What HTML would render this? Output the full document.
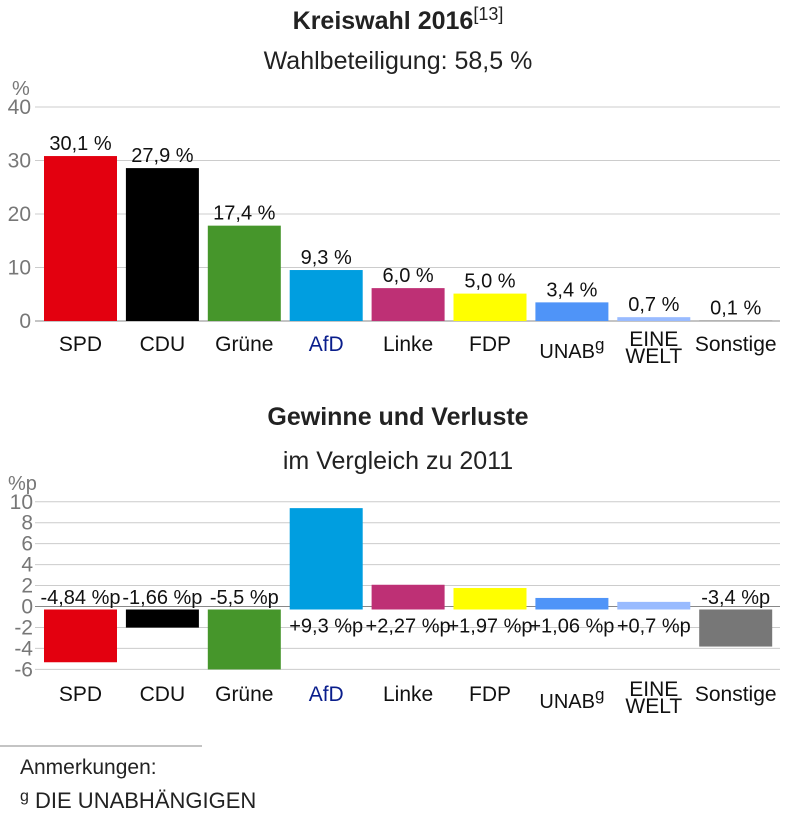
<!DOCTYPE html>
<html><head><meta charset="utf-8"><style>
body{margin:0;background:#fff;font-family:"Liberation Sans",sans-serif;}
svg text{font-family:"Liberation Sans",sans-serif;}
</style></head><body>
<svg id="c" width="797" height="815">
<text x="398" y="29" text-anchor="middle" font-size="25" font-weight="bold" fill="#222">Kreiswahl 2016<tspan font-size="18" font-weight="normal" dy="-9">[13]</tspan></text>
<text x="398" y="69" text-anchor="middle" font-size="25" fill="#222">Wahlbeteiligung: 58,5 %</text>
<text x="398" y="425" text-anchor="middle" font-size="25" font-weight="bold" fill="#222">Gewinne und Verluste</text>
<text x="398" y="469" text-anchor="middle" font-size="25" fill="#222">im Vergleich zu 2011</text>
<line x1="0" y1="746" x2="202" y2="746" stroke="#888" stroke-width="1"/>
<text x="20" y="774" font-size="21" fill="#222">Anmerkungen:</text>
<text x="20" y="808" font-size="22" fill="#222"><tspan font-size="16" dy="-7">g</tspan><tspan dy="7"> DIE UNABHÄNGIGEN</tspan></text>
<g id="top"></g><g id="bot"></g>
</svg>
<script>
const parties = ["SPD","CDU","Grüne","AfD","Linke","FDP","UNAB","EINE WELT","Sonstige"];
const colors = ["#e3000f","#000000","#46962b","#009ee0","#be3075","#ffff00","#4f94f8","#99bbff","#777777"];
const votes = [30.1,27.9,17.4,9.3,6.0,5.0,3.4,0.7,0.1];
const voteLabels = ["30,1 %","27,9 %","17,4 %","9,3 %","6,0 %","5,0 %","3,4 %","0,7 %","0,1 %"];
const changes = [-4.84,-1.66,-5.5,9.3,2.27,1.97,1.06,0.7,-3.4];
const changeLabels = ["-4,84 %p","-1,66 %p","-5,5 %p","+9,3 %p","+2,27 %p","+1,97 %p","+1,06 %p","+0,7 %p","-3,4 %p"];
const topTicks = [0,10,20,30,40];
const botTicks = [-6,-4,-2,0,2,4,6,8,10];
const NS="http://www.w3.org/2000/svg";
function mk(p,t,a){const e=document.createElementNS(NS,t);for(const k in a)e.setAttribute(k,a[k]);p.appendChild(e);return e;}
const xBar=i=>44+i*81.9, BW=73;
function drawLabels(g,base){
  parties.forEach((p,i)=>{
    const cx=xBar(i)+BW/2;
    let t;
    if(p==="EINE WELT"){
      t=mk(g,"text",{x:cx,y:base-5,"text-anchor":"middle","font-size":"21",fill:"#111"});
      t.innerHTML='<tspan x="'+cx+'">EINE</tspan><tspan x="'+cx+'" dy="17">WELT</tspan>';
    } else if(p==="UNAB"){
      t=mk(g,"text",{x:cx,y:base+7,"text-anchor":"middle","font-size":"20",fill:"#111"});
      t.innerHTML='UNAB<tspan font-size="17" dy="-8">g</tspan>';
    } else {
      t=mk(g,"text",{x:cx,y:base,"text-anchor":"middle","font-size":"21",fill:p==="AfD"?"#0a1e8c":"#111"});
      t.textContent=p;
    }
    
    
  });
}
// top chart
const gt=document.getElementById('top');
const yT=v=>321-v*5.35;
const hT=v=>v*5.48;
let u=mk(gt,"text",{x:12,y:95,"font-size":"20",fill:"#777"});u.textContent="%";


topTicks.forEach(t=>{
  const l=mk(gt,"line",{x1:35,x2:780,y1:yT(t),y2:yT(t),stroke:t===0?"#888":"#ccc","stroke-width":1});
  
  
  const tx=mk(gt,"text",{x:31,y:yT(t)+7,"text-anchor":"end","font-size":"21",fill:"#777"});tx.textContent=t;
  
  
});
votes.forEach((v,i)=>{
  const top=321-hT(v);
  const r=mk(gt,"rect",{x:xBar(i),y:top,width:BW,height:hT(v),fill:colors[i]});
  
  
  const t=mk(gt,"text",{x:xBar(i)+BW/2,y:top-6,"text-anchor":"middle","font-size":"20",fill:"#111"});t.textContent=voteLabels[i];
  
  
});
drawLabels(gt,351);
// bottom chart
const gb=document.getElementById('bot');
const yB=v=>606.5-v*10.47;
const hB=v=>Math.abs(v)*10.9;
u=mk(gb,"text",{x:8,y:490,"font-size":"20",fill:"#777"});u.textContent="%p";


botTicks.forEach(t=>{
  const l=mk(gb,"line",{x1:35,x2:780,y1:yB(t),y2:yB(t),stroke:t===0?"#888":"#ccc","stroke-width":1});
  
  
  const tx=mk(gb,"text",{x:33,y:yB(t)+7,"text-anchor":"end","font-size":"21",fill:"#777"});tx.textContent=t;
  
  
});
changes.forEach((v,i)=>{
  let y,ly;
  if(v>=0){y=609.5-hB(v);ly=609.5+23;}
  else{y=609.5;ly=604;}
  const r=mk(gb,"rect",{x:xBar(i),y:y,width:BW,height:hB(v),fill:colors[i]});
  
  
  const t=mk(gb,"text",{x:xBar(i)+BW/2,y:ly,"text-anchor":"middle","font-size":"20",fill:"#111"});t.textContent=changeLabels[i];
  
  
});
drawLabels(gb,701);
</script>
</body></html>
